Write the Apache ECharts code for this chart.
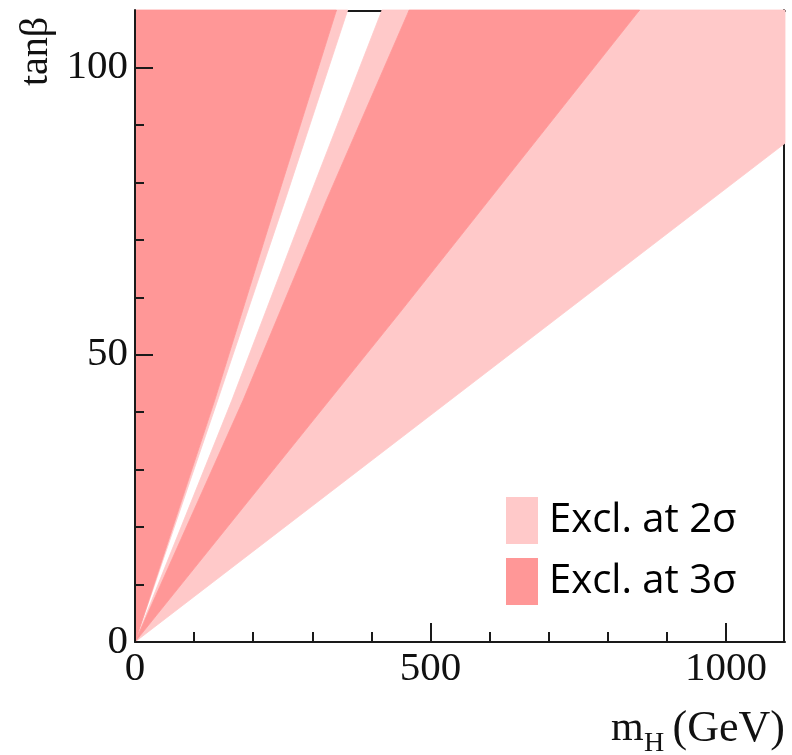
<!DOCTYPE html>
<html><head><meta charset="utf-8">
<script src="https://cdn.jsdelivr.net/npm/echarts@6/dist/echarts.min.js"></script>
<style>html,body{margin:0;padding:0;background:#fff}#c{width:792px;height:755px}</style>
</head><body><div id="c"></div>
<script>
// ---- data: region boundaries [m_H (GeV), tanβ] ----
const legendNames = ['Excl. at 2σ', 'Excl. at 3σ'];
const xMax = 1100, yMax = 110;
const edgeOuter2s      = [[0, 0], [1100, 86.8]];
const edgeOuter3s      = [[0, 0], [448, 57.3], [854, 110]];
const edgeInner3sRight = [[0, 0], [183, 42.1], [324, 76.9], [464, 110]];
const edgeGapRight     = [[0, 0], [164, 42.1], [293, 76.9], [418, 110]];
const edgeGapLeft      = [[0, 0], [140, 42.1], [254, 76.9], [360, 110]];
const edgeInner3sLeft  = [[0, 0], [135, 42.1], [240, 76.9], [341, 110]];
const xMinorTicks = [100, 200, 300, 400, 500, 600, 700, 800, 900, 1000];
const xMajorTicks = [0, 500, 1000];
const xTickLabels = [0, 500, 1000];
const yMinorTicks = [10, 20, 30, 40, 50, 60, 70, 80, 90, 100];
const yMajorTicks = [0, 50, 100];
const yTickLabels = [0, 50, 100];

const LIGHT = '#FFC9C9', DARK = '#FF9797', INK = '#1a1a1a';
const rev = a => a.slice().reverse();
// polygons built from the edges
const regions2s = [
  edgeInner3sLeft.concat(rev(edgeGapLeft)),
  edgeGapRight.concat(rev(edgeInner3sRight)),
  edgeOuter3s.concat([[xMax, yMax]], rev(edgeOuter2s))
];
const regions3s = [
  [[0, yMax]].concat(edgeInner3sLeft),
  edgeInner3sRight.concat(rev(edgeOuter3s))
];

const serif = 'Liberation Serif';
const chart = echarts.init(document.getElementById('c'), null, { renderer: 'canvas' });
const axisBase = (extra) => Object.assign({ type: 'value', splitLine: { show: false } }, extra);
const polySeries = (name, regions, color) => ({
  type: 'custom', name: name, coordinateSystem: 'cartesian2d', xAxisIndex: 0, yAxisIndex: 0,
  silent: true, z: 2, itemStyle: { color: color },
  data: regions.map((r, i) => [i]),
  encode: { x: 0, y: 0 },
  renderItem: function (params, api) {
    const poly = regions[api.value(0)].map(p => api.coord(p));
    return { type: 'polygon', shape: { points: poly },
      style: { fill: color, stroke: color, lineWidth: 0.8 } };
  }
});

chart.setOption({
  animation: false,
  backgroundColor: '#fff',
  grid: { left: 135, right: 7, top: 10, bottom: 113, containLabel: false },
  xAxis: [
    axisBase({ min: 0, max: xMax, position: 'bottom', z: 10,
      axisLine: { show: true, onZero: false, lineStyle: { color: INK, width: 2 } },
      axisTick: { show: true, inside: true, length: 10, customValues: xMinorTicks, lineStyle: { color: INK, width: 2 } },
      axisLabel: { show: true, customValues: xTickLabels, margin: 7, fontFamily: serif, fontSize: 41, color: '#111',
        formatter: v => String(v) } }),
    axisBase({ min: 0, max: xMax, position: 'bottom', z: 10,
      axisLine: { show: false, onZero: false },
      axisTick: { show: true, inside: true, length: 19, customValues: xMajorTicks, lineStyle: { color: INK, width: 2 } },
      axisLabel: { show: false } }),
    axisBase({ min: 0, max: xMax, position: 'top', z: 0, offset: -1,
      axisLine: { show: true, onZero: false, lineStyle: { color: INK, width: 2 } },
      axisTick: { show: false }, axisLabel: { show: false } })
  ],
  yAxis: [
    axisBase({ min: 0, max: yMax, position: 'left', z: 10,
      axisLine: { show: true, onZero: false, lineStyle: { color: INK, width: 2 } },
      axisTick: { show: true, inside: true, length: 9, customValues: yMinorTicks, lineStyle: { color: INK, width: 2 } },
      axisLabel: { show: true, customValues: yTickLabels, margin: 7, fontFamily: serif, fontSize: 41, color: '#111',
        formatter: v => String(v) } }),
    axisBase({ min: 0, max: yMax, position: 'left', z: 10,
      axisLine: { show: false, onZero: false },
      axisTick: { show: true, inside: true, length: 18, customValues: yMajorTicks, lineStyle: { color: INK, width: 2 } },
      axisLabel: { show: false } }),
    axisBase({ min: 0, max: yMax, position: 'right', z: 0, offset: -1,
      axisLine: { show: true, onZero: false, lineStyle: { color: INK, width: 2 } },
      axisTick: { show: false }, axisLabel: { show: false } })
  ],
  legend: {
    orient: 'vertical', left: 506, top: 497, padding: 0,
    itemWidth: 32, itemHeight: 47, itemGap: 14, icon: 'rect', selectedMode: false,
    data: [
      { name: legendNames[0], itemStyle: { color: LIGHT } },
      { name: legendNames[1], itemStyle: { color: DARK } }
    ],
    textStyle: { fontFamily: 'Open Sans', fontSize: 40, color: '#000', padding: [0, 0, 0, 6] }
  },
  graphic: [
    { type: 'text', x: 36, y: 86, rotation: Math.PI / 2,
      style: { text: 'tanβ', font: '40px "Liberation Serif"', fill: '#111', align: 'left', verticalAlign: 'middle' } },
    { type: 'text', x: 611, y: 729,
      style: { text: 'm', font: '42px "Liberation Serif"', fill: '#111', align: 'left', verticalAlign: 'middle' } },
    { type: 'text', x: 644, y: 744,
      style: { text: 'H', font: '28px "Liberation Serif"', fill: '#111', align: 'left', verticalAlign: 'middle' } },
    { type: 'text', x: 785, y: 729,
      style: { text: '(GeV)', font: '44px "Liberation Serif"', fill: '#111', align: 'right', verticalAlign: 'middle' } }
  ],
  series: [
    polySeries(legendNames[0], regions2s, LIGHT),
    polySeries(legendNames[1], regions3s, DARK)
  ]
});
</script></body></html>
